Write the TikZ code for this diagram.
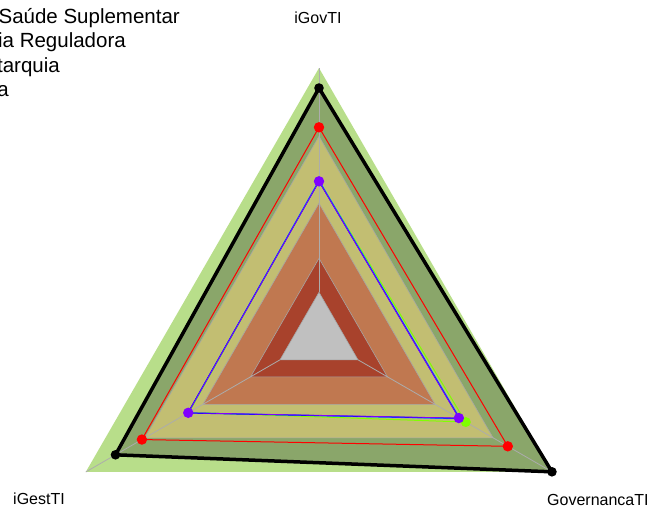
\documentclass[tikz,border=0pt]{standalone}
\usepackage{fontspec}
\setmainfont{Liberation Sans}
\begin{document}
\begin{tikzpicture}[x=1pt,y=1pt,
  band/.style={draw=gray!70,line width=0.6pt},
  axisline/.style={draw=gray!65,line width=0.8pt},
  serie/.style={line width=1pt,line join=round},
  axlabel/.style={font=\fontsize{16}{19}\selectfont,inner sep=0pt},
  legendtxt/.style={font=\fontsize{20.5}{24}\selectfont,inner sep=0pt,anchor=base east}]
\definecolor{lgreen}{RGB}{184,222,138}
\definecolor{dgreen}{RGB}{138,166,106}
\definecolor{olive}{RGB}{194,190,114}
\definecolor{orng}{RGB}{192,120,80}
\definecolor{rbrown}{RGB}{168,66,44}
\definecolor{ggray}{RGB}{192,192,192}
\definecolor{lime}{RGB}{128,255,0}
\definecolor{purp}{RGB}{128,0,255}
\useasboundingbox (0,0) rectangle (650,-509);
\coordinate (C) at (319,-337.3);
\begin{scope}[shift={(C)}]
  % bands
  \fill[lgreen] (90:269.3) -- (210:269.3) -- (330:269.3) -- cycle;
  % black series fill
  \fill[dgreen] (90:249.3) -- (210:235) -- (330:269) -- cycle;
  \path[band,fill=olive] (90:201) -- (210:201) -- (330:201) -- cycle;
  \path[band,fill=orng] (90:134) -- (210:134) -- (330:134) -- cycle;
  \path[band,fill=rbrown] (90:79) -- (210:79) -- (330:79) -- cycle;
  \path[band,fill=ggray] (90:45) -- (210:45) -- (330:45) -- cycle;
  % axes
  \foreach \a in {90,210,330} \draw[axisline] (\a:45) -- (\a:269.3);
  % data series
  \coordinate (LT) at (90:156.5); \coordinate (LL) at (210:150); \coordinate (LR) at (330:169.5);
  \coordinate (CT) at (90:157); \coordinate (CL) at (210:151); \coordinate (CR) at (330:163);
  \coordinate (BT) at (90:156); \coordinate (BL) at (210:151.5); \coordinate (BR) at (330:162);
  \coordinate (PT) at (90:156); \coordinate (PL) at (210:151); \coordinate (PR) at (330:161.5);
  \coordinate (RT) at (90:210); \coordinate (RL) at (210:204.5); \coordinate (RR) at (330:218);
  \coordinate (KT) at (90:249.3); \coordinate (KL) at (210:235); \coordinate (KR) at (330:269);
  \draw[serie,lime] (LT) -- (LL) -- (LR) -- cycle;
  \draw[serie,cyan] (CT) -- (CL) -- (CR) -- cycle;
  \draw[serie,blue] (BT) -- (BL) -- (BR) -- cycle;
  \draw[serie,purp,line width=0.8pt] (PT) -- (PL) -- (PR) -- cycle;
  \draw[serie,red] (RT) -- (RL) -- (RR) -- cycle;
  \draw[line width=3.5pt,black,line join=round] (KT) -- (KL) -- (KR) -- cycle;
  \fill[lime] (LR) circle (5);
  \foreach \p in {PT,PL,PR} \fill[purp] (\p) circle (5.2);
  \foreach \p in {RT,RL,RR} \fill[red] (\p) circle (5.2);
  \foreach \p in {KT,KL,KR} \fill[black] (\p) circle (4.8);
\end{scope}
% axis labels
\node[axlabel,anchor=base] (lgov) at (318,-23) {iGovTI};
\node[axlabel,anchor=base west] (lgest) at (13,-504) {iGestTI};
\node[axlabel,anchor=base west] (lgovern) at (547,-505) {GovernancaTI};
% legend (cut at left edge)
\node[legendtxt] (leg1) at (180,-23) {Saúde Suplementar};
\node[legendtxt] (leg2) at (126,-47) {ia Reguladora};
\node[legendtxt] (leg3) at (60,-72) {tarquia};
\node[legendtxt] (leg4) at (9,-96) {a};
\end{tikzpicture}
\end{document}
